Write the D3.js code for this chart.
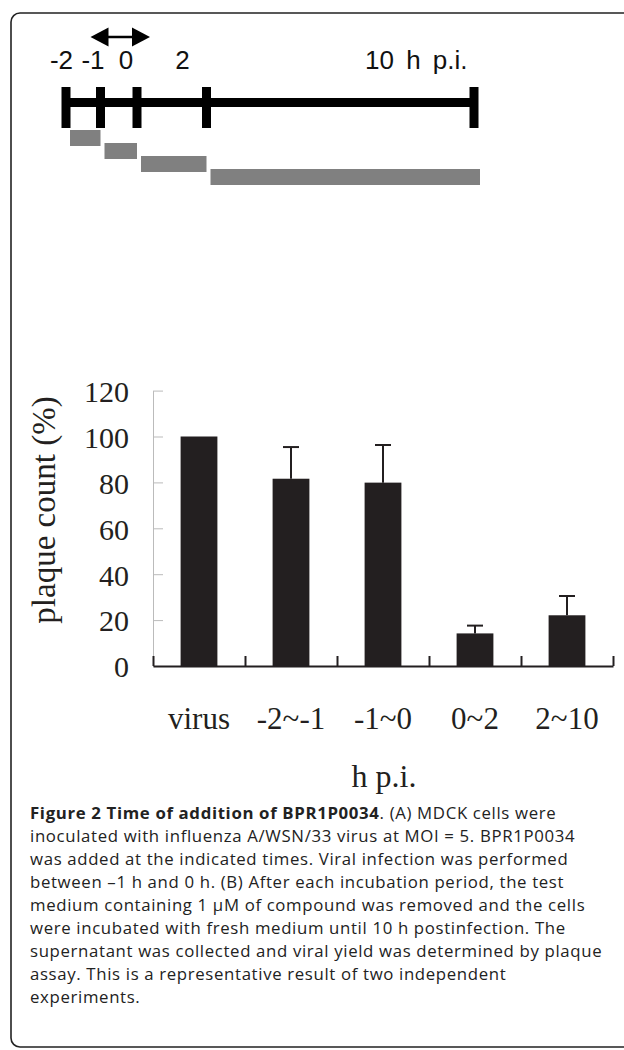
<!DOCTYPE html>
<html>
<head>
<meta charset="utf-8">
<script src="https://cdn.jsdelivr.net/npm/d3@7"></script>
<style>
  body { margin: 0; background: #fff; }
  svg { display: block; }
</style>
</head>
<body>
<div id="chart"></div>
<script>
// timeline (panel A)
const timeTicks = [-2, -1, 0, 2, 10];
const timeLabels = ["-2", "-1", "0", "2", "10 h p.i."];
const periodStart = [-2, -1, 0, 2];
const periodEnd = [-1, 0, 2, 10];

// bar chart (panel B)
const categories = ["virus", "-2~-1", "-1~0", "0~2", "2~10"];
const plaqueCount = [100, 81.6, 79.9, 14.2, 22.1];
const plaqueError = [0, 13.8, 16.4, 3.4, 8.4];
const yTicks = [0, 20, 40, 60, 80, 100, 120];

const captionLines = [
  [["Figure 2 Time of addition of BPR1P0034", true], [". (A) MDCK cells were", false]],
  [["inoculated with influenza A/WSN/33 virus at MOI = 5. BPR1P0034", false]],
  [["was added at the indicated times. Viral infection was performed", false]],
  [["between \u20131 h and 0 h. (B) After each incubation period, the test", false]],
  [["medium containing 1 \u00b5M of compound was removed and the cells", false]],
  [["were incubated with fresh medium until 10 h postinfection. The", false]],
  [["supernatant was collected and viral yield was determined by plaque", false]],
  [["assay. This is a representative result of two independent", false]],
  [["experiments.", false]]
];

const width = 624;
const height = 1050;
const ink = "#231f20";

const svg = d3.select("#chart").append("svg")
    .attr("width", width)
    .attr("height", height);

// frame
svg.append("rect")
    .attr("x", 11).attr("y", 13)
    .attr("width", 700).attr("height", 1034)
    .attr("rx", 9)
    .attr("fill", "none")
    .attr("stroke", "#222")
    .attr("stroke-width", 1.6);

// ---- timeline ----
const tScale = d3.scaleLinear()
    .domain(timeTicks)
    .range([66, 100.5, 137, 206.5, 474]);

const tl = svg.append("g");
tl.append("line")
    .attr("x1", tScale(-2)).attr("x2", tScale(10))
    .attr("y1", 102.5).attr("y2", 102.5)
    .attr("stroke", "#000").attr("stroke-width", 9);

tl.selectAll("line.tick")
    .data(timeTicks)
    .enter().append("line")
    .attr("class", "tick")
    .attr("x1", d => tScale(d)).attr("x2", d => tScale(d))
    .attr("y1", 87).attr("y2", 128)
    .attr("stroke", "#000").attr("stroke-width", 9);

// labels sit a little left of their ticks in the original
const labelShift = [-4.5, -7.5, -11, -24, -109];
tl.selectAll("text")
    .data(timeLabels)
    .enter().append("text")
    .attr("x", (d, i) => tScale(timeTicks[i]) + labelShift[i])
    .attr("y", 69)
    .attr("text-anchor", (d, i) => i === timeLabels.length - 1 ? "start" : "middle")
    .attr("font-family", "Liberation Sans, Arial, sans-serif")
    .attr("font-size", 26)
    .attr("word-spacing", 5)
    .attr("fill", "#111")
    .text(d => d);

tl.selectAll("rect")
    .data(periodStart)
    .enter().append("rect")
    .attr("x", (d, i) => tScale(d) + 4)
    .attr("y", (d, i) => 130 + i * 13)
    .attr("width", (d, i) => tScale(periodEnd[i]) - tScale(d) - 4 + (i === 3 ? 6 : 0))
    .attr("height", 16)
    .attr("fill", "#808080");

// double arrow over the infection hour
const ax0 = tScale(-1) - 10, ax1 = tScale(0) + 13, ay = 37;
tl.append("line")
    .attr("x1", ax0 + 10).attr("x2", ax1 - 10)
    .attr("y1", ay).attr("y2", ay)
    .attr("stroke", "#000").attr("stroke-width", 2.5);
tl.append("path")
    .attr("d", `M${ax0},${ay} L${ax0 + 18},${ay - 9.5} L${ax0 + 18},${ay + 9.5} Z`)
    .attr("fill", "#000");
tl.append("path")
    .attr("d", `M${ax1},${ay} L${ax1 - 18},${ay - 9.5} L${ax1 - 18},${ay + 9.5} Z`)
    .attr("fill", "#000");

// ---- bar chart ----
const x = d3.scaleBand()
    .domain(categories)
    .range([153, 613]);

const y = d3.scaleLinear()
    .domain([0, 120])
    .range([666, 390.6]);

const serif = "Liberation Serif, Times New Roman, serif";

const yAxis = svg.append("g")
    .attr("transform", "translate(153,0)")
    .call(d3.axisLeft(y).tickValues(yTicks).tickSize(-10).tickSizeOuter(0).tickPadding(24));
yAxis.select(".domain").attr("stroke", "#bbb");
yAxis.selectAll(".tick line").attr("stroke", "#bbb");
yAxis.selectAll("text")
    .attr("font-family", serif)
    .attr("font-size", 30)
    .attr("fill", ink)
    .attr("dy", "0.36em");

const barW = x.bandwidth() * 0.4;

svg.append("g").selectAll("rect")
    .data(plaqueCount)
    .enter().append("rect")
    .attr("x", (d, i) => x(categories[i]) + (x.bandwidth() - barW) / 2)
    .attr("y", d => y(d))
    .attr("width", barW)
    .attr("height", d => y(0) - y(d))
    .attr("fill", ink);

const err = svg.append("g").attr("stroke", ink).attr("stroke-width", 2);
plaqueError.forEach((e, i) => {
    if (!e) return;
    const cx = x(categories[i]) + x.bandwidth() / 2;
    err.append("line")
        .attr("x1", cx).attr("x2", cx)
        .attr("y1", y(plaqueCount[i])).attr("y2", y(plaqueCount[i] + e));
    err.append("line")
        .attr("x1", cx - 8).attr("x2", cx + 8)
        .attr("y1", y(plaqueCount[i] + e)).attr("y2", y(plaqueCount[i] + e));
});

// x axis: ticks at band edges, labels at centres
const edges = d3.scaleLinear().domain([0, categories.length]).range(x.range());
const xAxis = svg.append("g")
    .attr("transform", "translate(0,666)")
    .call(d3.axisBottom(edges).ticks(categories.length).tickSize(-10).tickSizeOuter(0).tickFormat(""));
xAxis.selectAll("line, path").attr("stroke", ink).attr("stroke-width", 2);

const xLab = svg.append("g")
    .attr("transform", "translate(0,666)")
    .call(d3.axisBottom(x).tickSize(0).tickPadding(41));
xLab.select(".domain").remove();
xLab.selectAll("text")
    .attr("font-family", serif)
    .attr("font-size", 31)
    .attr("fill", ink);

svg.append("text")
    .attr("x", 384).attr("y", 787)
    .attr("text-anchor", "middle")
    .attr("font-family", serif)
    .attr("font-size", 32)
    .attr("fill", ink)
    .text("h p.i.");

svg.append("text")
    .attr("transform", "translate(55,510) rotate(-90)")
    .attr("text-anchor", "middle")
    .attr("font-family", serif)
    .attr("font-size", 33)
    .attr("fill", ink)
    .text("plaque count (%)");

// ---- caption ----
const cap = svg.append("text")
    .attr("font-family", "Open Sans, Noto Sans, sans-serif")
    .attr("font-size", 16.8)
    .attr("letter-spacing", 0.65)
    .attr("fill", "#222");
captionLines.forEach((line, i) => {
    line.forEach((part, j) => {
        const t = cap.append("tspan")
            .attr("font-weight", part[1] ? 700 : 400)
            .text(part[0]);
        if (j === 0) t.attr("x", 30).attr("y", 819 + i * 23);
    });
});
</script>
</body>
</html>
